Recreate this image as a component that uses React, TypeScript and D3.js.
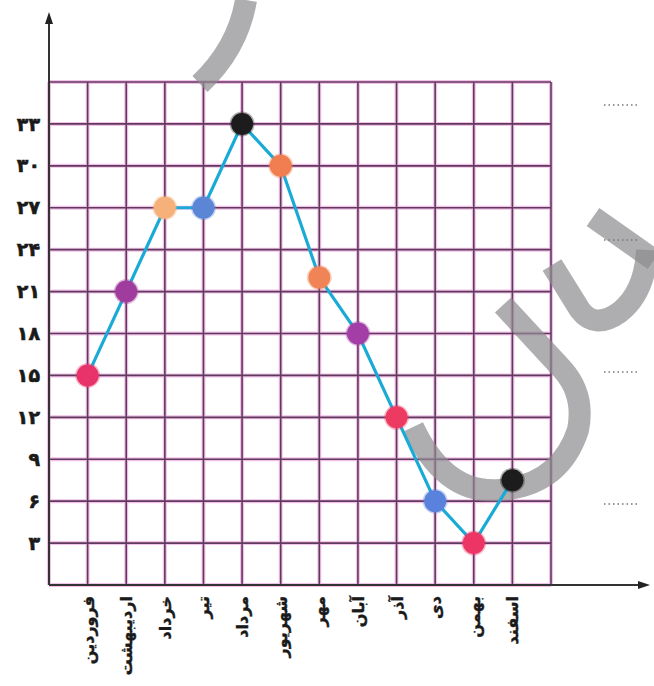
import React from "react";
import * as d3 from "d3";

const months = ["فروردین", "اردیبهشت", "خرداد", "تیر", "مرداد", "شهریور", "مهر", "آبان", "آذر", "دی", "بهمن", "اسفند"];
const temps = [15, 21, 27, 27, 33, 30, 22, 18, 12, 6, 3, 7.5];
const dotColors = ["#e8336a", "#a03c9e", "#f6b07a", "#5b86d6", "#1c1c1c", "#f07e50", "#f08456", "#a23ea6", "#ec3a60", "#5a82dc", "#ec3565", "#1c1c1c"];
const yTicks = [3, 6, 9, 12, 15, 18, 21, 24, 27, 30, 33];
const yTickLabels = ["۳", "۶", "۹", "۱۲", "۱۵", "۱۸", "۲۱", "۲۴", "۲۷", "۳۰", "۳۳"];

const W = 654;
const H = 686;

const App = () => {
  const x = d3.scaleLinear().domain([0, 13]).range([49, 551]);
  const y = d3.scaleLinear().domain([0, 36]).range([585, 82]);

  const cols = d3.range(0, 14);
  const rows = d3.range(0, 37, 3);

  const line = d3
    .line<number>()
    .x((_, i) => x(i + 1))
    .y((d) => y(d));

  const gridColor = "#5f3a5d";
  const font = "'DejaVu Sans', sans-serif";

  return (
    <svg width={W} height={H} style={{ position: "absolute", left: 0, top: 0, background: "#fff" }}>
      {/* grid with a pink halo */}
      <g>
        {cols.map((c) => (
          <line key={"vh" + c} x1={x(c)} x2={x(c)} y1={y(36)} y2={y(0)} stroke="#f2c0e8" strokeWidth={4} />
        ))}
        {rows.map((r) => (
          <line key={"hh" + r} x1={x(0)} x2={x(13)} y1={y(r)} y2={y(r)} stroke="#f2c0e8" strokeWidth={4} />
        ))}
        {cols.map((c) => (
          <line key={"v" + c} x1={x(c)} x2={x(c)} y1={y(36)} y2={y(0)} stroke={gridColor} strokeWidth={1.6} />
        ))}
        {rows.map((r) => (
          <line key={"h" + r} x1={x(0)} x2={x(13)} y1={y(r)} y2={y(r)} stroke={gridColor} strokeWidth={1.6} />
        ))}
      </g>

      {/* axes */}
      <line x1={x(0)} x2={x(0)} y1={y(0)} y2={20} stroke="#333" strokeWidth={2} />
      <path d={`M${x(0)},12 L${x(0) - 4},24 L${x(0) + 4},24 Z`} fill="#222" />
      <line x1={x(0)} x2={642} y1={y(0)} y2={y(0)} stroke="#333" strokeWidth={2} />
      <path d={`M650,${y(0)} L638,${y(0) - 4} L638,${y(0) + 4} Z`} fill="#222" />

      {/* watermark */}
      <g fill="none" stroke="#8c8c8e" strokeOpacity={0.7} strokeWidth={22} strokeLinecap="butt" strokeLinejoin="round">
        <path d="M246,0 Q238,48 200,84" />
        <path d="M413,427 Q445,495 500,490 Q560,485 578,430 Q585,395 563,370 L503,305" />
        <path d="M552,265 L580,310 Q595,330 620,312 Q645,292 647,250" />
        <path d="M593,217 L654,260" />
      </g>

      {/* series line */}
      <path d={line(temps) ?? ""} fill="none" stroke="#1aaad6" strokeWidth={3.2} />

      {/* points */}
      {temps.map((t, i) => (
        <g key={"p" + i}>
          <circle cx={x(i + 1)} cy={y(t)} r={12.5} fill={dotColors[i]} opacity={0.35} />
          <circle cx={x(i + 1)} cy={y(t)} r={11} fill={dotColors[i]} />
        </g>
      ))}

      {/* y tick labels */}
      {yTicks.map((t, i) => (
        <text
          key={"yt" + i}
          x={40}
          y={y(t)}
          dy="0.35em"
          textAnchor="end"
          fontFamily={font}
          fontWeight="bold"
          fontSize={19}
          stroke="#1a1a1a"
          strokeWidth={0.6}
          fill="#1a1a1a"
        >
          {yTickLabels[i]}
        </text>
      ))}

      {/* month labels */}
      {months.map((m, i) => (
        <text
          key={"m" + i}
          transform={`translate(${x(i + 1) + 6},596) rotate(-90)`}
          textAnchor="end"
          fontFamily={font}
          fontWeight="bold"
          fontSize={16}
          stroke="#1a1a1a"
          strokeWidth={0.4}
          fill="#1a1a1a"
        >
          {m}
        </text>
      ))}

      {/* answer blanks on the right */}
      {[105, 240, 372, 504].map((yy) => (
        <line key={"d" + yy} x1={604} x2={640} y1={yy} y2={yy} stroke="#777" strokeWidth={1.5} strokeDasharray="1.5 3" />
      ))}
    </svg>
  );
};

export default App;
